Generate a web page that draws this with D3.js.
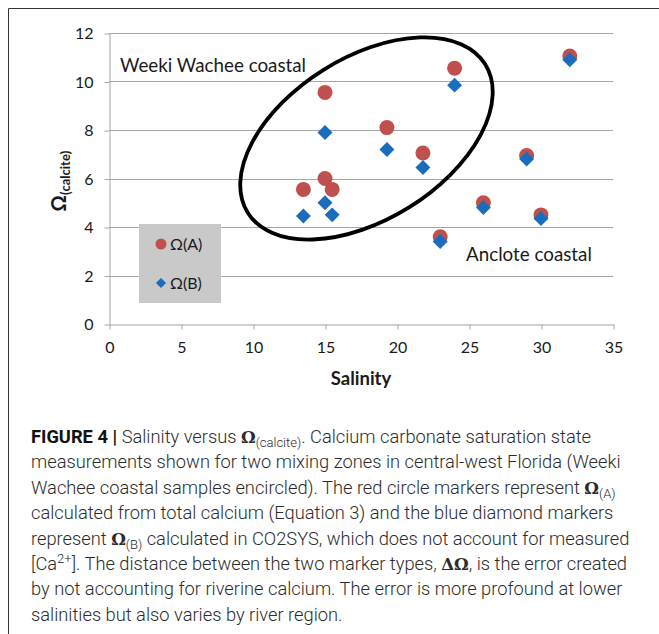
<!DOCTYPE html>
<html>
<head>
<meta charset="utf-8">
<script src="https://cdn.jsdelivr.net/npm/d3@7"></script>
<style>
  body { margin: 0; background: #fff; }
  svg { display: block; }
</style>
</head>
<body>
<div id="chart"></div>
<script>
// values
const salinity = [13.5, 15, 15, 15.5, 19.3, 21.8, 24, 23, 26, 29, 30, 32];
const omegaA = [5.55, 9.55, 6.0, 5.55, 8.1, 7.05, 10.55, 3.6, 5.0, 6.95, 4.5, 11.05];
const omegaB = [4.45, 7.9, 5.0, 4.5, 7.2, 6.45, 9.85, 3.4, 4.8, 6.8, 4.35, 10.9];
const xTicks = [0, 5, 10, 15, 20, 25, 30, 35];
const yTicks = [0, 2, 4, 6, 8, 10, 12];
const seriesNames = ["Ω(A)", "Ω(B)"];

const chartFont = "Lato, 'Open Sans', sans-serif";
const red = "#c0504d";
const blue = "#1a6dbb";
const grid = "#a6a6a6";

const svg = d3.select("#chart").append("svg")
  .attr("width", 659)
  .attr("height", 634);

// frame of the figure panel
svg.append("path")
  .attr("d", "M8.5,634V8.5H659")
  .attr("fill", "none")
  .attr("stroke", "#333")
  .attr("stroke-width", 1);

const x = d3.scaleLinear().domain([0, 35]).range([109, 613]);
const y = d3.scaleLinear().domain([0, 12]).range([324, 33]);

// horizontal gridlines
svg.append("g")
  .selectAll("line")
  .data(yTicks.filter(d => d > 0))
  .join("line")
    .attr("x1", x(0)).attr("x2", x(35))
    .attr("y1", d => Math.round(y(d)) + 0.5)
    .attr("y2", d => Math.round(y(d)) + 0.5)
    .attr("stroke", grid);

// axes
const yAxis = svg.append("g")
  .attr("transform", `translate(${x(0) + 0.5},0.5)`)
  .call(d3.axisLeft(y).tickValues(yTicks).tickSize(5).tickPadding(11).tickSizeOuter(0));
const xAxis = svg.append("g")
  .attr("transform", `translate(0.5,${y(0) + 0.5})`)
  .call(d3.axisBottom(x).tickValues(xTicks).tickSize(5).tickPadding(12).tickSizeOuter(0));

[xAxis, yAxis].forEach(g => {
  g.select(".domain").attr("stroke", grid);
  g.selectAll(".tick line").attr("stroke", grid);
  g.selectAll(".tick text")
    .attr("fill", "#1a1a1a")
    .style("font-family", chartFont)
    .style("font-size", "16px");
});

// series A: red circles
svg.append("g")
  .selectAll("circle")
  .data(salinity.map((s, i) => [s, omegaA[i]]))
  .join("circle")
    .attr("cx", d => x(d[0]))
    .attr("cy", d => y(d[1]))
    .attr("r", 7.5)
    .attr("fill", red);

// series B: blue diamonds
const diamond = d3.symbol().type(d3.symbolSquare).size(112);
svg.append("g")
  .selectAll("path")
  .data(salinity.map((s, i) => [s, omegaB[i]]))
  .join("path")
    .attr("d", diamond)
    .attr("transform", d => `translate(${x(d[0])},${y(d[1])}) rotate(45)`)
    .attr("fill", blue);

// encircled Weeki Wachee samples
svg.append("ellipse")
  .attr("cx", x(17.88))
  .attr("cy", y(7.65))
  .attr("rx", 140)
  .attr("ry", 81)
  .attr("transform", `rotate(-32,${x(17.88)},${y(7.65)})`)
  .attr("fill", "none")
  .attr("stroke", "#000")
  .attr("stroke-width", 3.8);

// region labels
svg.append("text")
  .attr("x", 120).attr("y", 72)
  .style("font-family", chartFont).style("font-size", "18.8px")
  .attr("fill", "#1a1a1a")
  .text("Weeki Wachee coastal");
svg.append("text")
  .attr("x", 466).attr("y", 261)
  .style("font-family", chartFont).style("font-size", "18.8px")
  .attr("fill", "#1a1a1a")
  .text("Anclote coastal");

// legend
const legend = svg.append("g");
legend.append("rect")
  .attr("x", 139).attr("y", 224)
  .attr("width", 82).attr("height", 79)
  .attr("fill", "#c9c9c9");
legend.append("circle")
  .attr("cx", 161).attr("cy", 244).attr("r", 5.5)
  .attr("fill", red);
legend.append("path")
  .attr("d", d3.symbol().type(d3.symbolSquare).size(52))
  .attr("transform", "translate(161,283) rotate(45)")
  .attr("fill", blue);
legend.selectAll("text")
  .data(seriesNames)
  .join("text")
    .attr("x", 170)
    .attr("y", (d, i) => 244 + i * 39)
    .attr("dy", "0.35em")
    .style("font-family", chartFont).style("font-size", "16px")
    .attr("fill", "#1a1a1a")
    .text(d => d);

// axis titles
svg.append("text")
  .attr("x", 361).attr("y", 385)
  .attr("text-anchor", "middle")
  .style("font-family", chartFont).style("font-size", "18.5px").style("font-weight", "bold")
  .attr("fill", "#1a1a1a")
  .text("Salinity");

const yTitle = svg.append("text")
  .attr("transform", "translate(66,181) rotate(-90)")
  .attr("text-anchor", "middle")
  .style("font-family", chartFont).style("font-weight", "bold")
  .attr("fill", "#1a1a1a");
yTitle.append("tspan").style("font-size", "20px").text("Ω");
yTitle.append("tspan").style("font-size", "13px").attr("dy", 4).text("(calcite)");

// caption
const capFont = "Roboto, 'Liberation Sans', sans-serif";
const serif = "'DejaVu Serif', 'Liberation Serif', serif";
const captionLines = [
  [["FIGURE 4 | ", "b"], ["Salinity versus "], ["Ω", "s"], ["(calcite)", "sub"], [". Calcium carbonate saturation state"]],
  [["measurements shown for two mixing zones in central-west Florida (Weeki"]],
  [["Wachee coastal samples encircled). The red circle markers represent "], ["Ω", "s"], ["(A)", "sub"]],
  [["calculated from total calcium (Equation 3) and the blue diamond markers"]],
  [["represent "], ["Ω", "s"], ["(B)", "sub"], [" calculated in CO2SYS, which does not account for measured"]],
  [["[Ca"], ["2+", "sup"], ["]. The distance between the two marker types, "], ["ΔΩ", "s"], [", is the error created"]],
  [["by not accounting for riverine calcium. The error is more profound at lower"]],
  [["salinities but also varies by river region."]]
];

const caption = svg.append("g")
  .style("font-family", capFont)
  .style("font-size", "18.3px")
  .style("font-weight", 300)
  .attr("fill", "#2b2b2b");

captionLines.forEach((parts, i) => {
  const t = caption.append("text")
    .attr("x", 31)
    .attr("y", 443 + i * 25.4)
    .attr("xml:space", "preserve");
  let pending = 0;
  parts.forEach(([str, kind]) => {
    const sp = t.append("tspan").text(str);
    if (pending) { sp.attr("dy", pending); pending = 0; }
    if (kind === "b") sp.style("font-weight", "bold").attr("fill", "#111");
    if (kind === "s") sp.style("font-family", serif).style("font-weight", "bold").style("font-size", "16.5px");
    if (kind === "sub") { sp.style("font-size", "13px").attr("dy", 4); pending = -4; }
    if (kind === "sup") { sp.style("font-size", "13px").attr("dy", -7); pending = 7; }
  });
});
</script>
</body>
</html>
